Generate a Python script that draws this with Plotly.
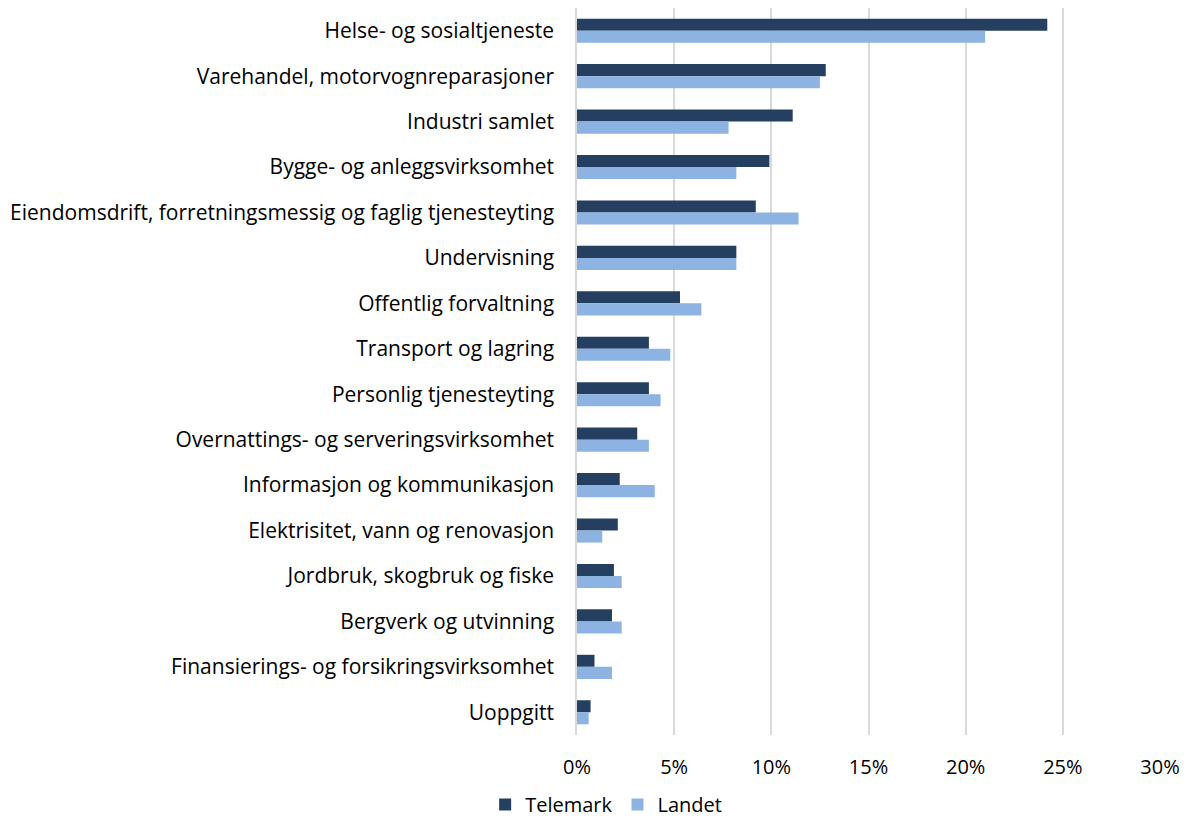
import plotly.graph_objects as go

categories = [
    "Helse- og sosialtjeneste",
    "Varehandel, motorvognreparasjoner",
    "Industri samlet",
    "Bygge- og anleggsvirksomhet",
    "Eiendomsdrift, forretningsmessig og faglig tjenesteyting",
    "Undervisning",
    "Offentlig forvaltning",
    "Transport og lagring",
    "Personlig tjenesteyting",
    "Overnattings- og serveringsvirksomhet",
    "Informasjon og kommunikasjon",
    "Elektrisitet, vann og renovasjon",
    "Jordbruk, skogbruk og fiske",
    "Bergverk og utvinning",
    "Finansierings- og forsikringsvirksomhet",
    "Uoppgitt",
]
telemark = [0.242, 0.128, 0.111, 0.099, 0.092, 0.082, 0.053, 0.037, 0.037, 0.031, 0.022, 0.021, 0.019, 0.018, 0.009, 0.007]
landet = [0.210, 0.125, 0.078, 0.082, 0.114, 0.082, 0.064, 0.048, 0.043, 0.037, 0.040, 0.013, 0.023, 0.023, 0.018, 0.006]
x_ticks = [0, 0.05, 0.10, 0.15, 0.20, 0.25, 0.30]

FONT = "Open Sans"

fig = go.Figure()
fig.add_trace(go.Bar(y=categories, x=telemark, name="Telemark", orientation="h",
                     marker=dict(color="#253F60", line=dict(width=0))))
fig.add_trace(go.Bar(y=categories, x=landet, name="Landet", orientation="h",
                     marker=dict(color="#8DB3E2", line=dict(width=0))))

fig.update_layout(
    width=1175, height=816,
    margin=dict(l=569, r=23, t=0, b=89, autoexpand=False),
    plot_bgcolor="white", paper_bgcolor="white",
    barmode="group", bargap=0.47, bargroupgap=0,
    font=dict(family=FONT, size=20, color="#000000"),
    xaxis=dict(range=[0, 0.30], tickvals=x_ticks, tickformat=".0%",
               showgrid=True, gridcolor="#D9D9D9", gridwidth=1.5,
               zeroline=False, showline=False, ticks="", ticklen=0,
               ticklabelstandoff=18,
               tickfont=dict(family=FONT, size=20), automargin=False),
    yaxis=dict(autorange="reversed", showgrid=False, showline=True,
               linecolor="#D9D9D9", linewidth=1.5, ticks="",
               ticklabelstandoff=17,
               tickfont=dict(family=FONT, size=21), automargin=False),
    legend=dict(orientation="h", x=0.05, xanchor="center",
                yref="container", y=-0.008, yanchor="bottom",
                font=dict(family=FONT, size=20), traceorder="normal",
                itemwidth=30),
    showlegend=True,
)

fig.write_html("out.html")
